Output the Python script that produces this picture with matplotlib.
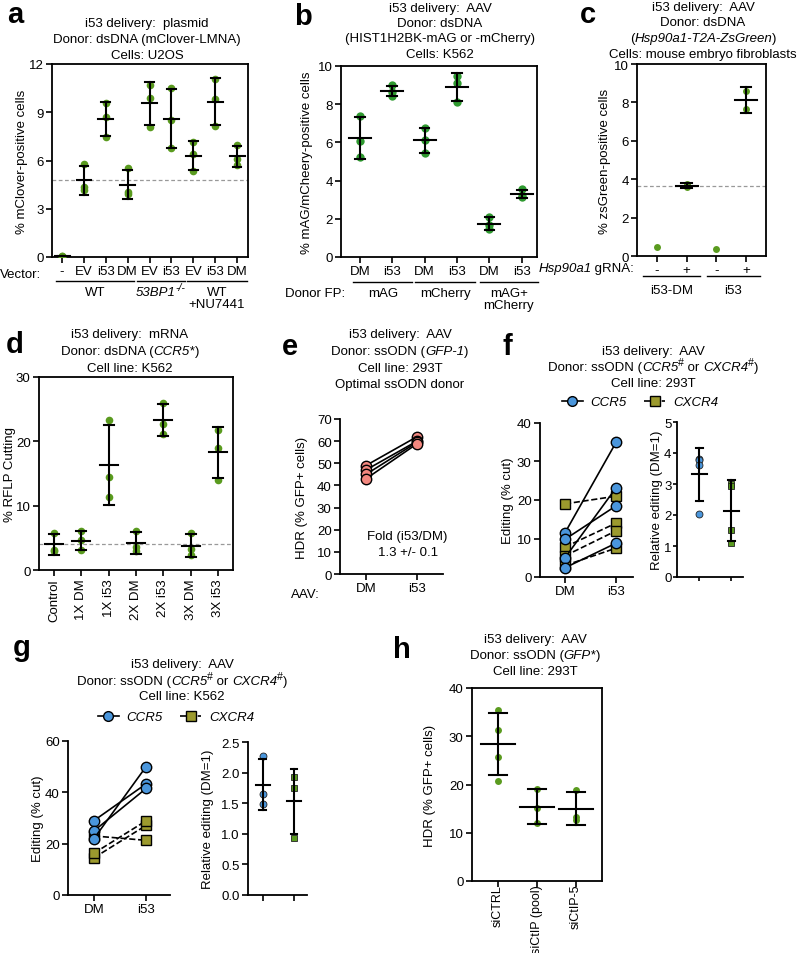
import matplotlib
matplotlib.use("Agg")
import matplotlib.pyplot as plt
import numpy as np
from matplotlib.lines import Line2D

plt.rcParams["font.family"] = ["Liberation Sans", "DejaVu Sans"]

# ---- data ----
a_ticks = ["-", "EV", "i53", "DM", "EV", "i53", "EV", "i53", "DM"]
a_vals = [[0.05, 0.03, 0.04], [5.8, 4.35, 4.15], [9.55, 8.7, 7.45], [5.55, 4.05, 3.9],
          [10.7, 9.9, 8.1], [10.5, 8.5, 6.8], [7.15, 6.4, 5.35], [11.05, 9.8, 8.15],
          [6.95, 6.1, 5.7]]
a_ref = 4.8

b_ticks = ["DM", "i53", "DM", "i53", "DM", "i53"]
b_vals = [[7.4, 6.05, 5.25], [9.0, 8.65, 8.45], [6.75, 6.15, 5.45], [9.5, 9.1, 8.1],
          [2.1, 1.7, 1.45], [3.55, 3.2, 3.15]]

c_ticks = ["-", "+", "-", "+"]
c_vals = [[0.45], [3.75, 3.58], [0.35], [8.6, 7.65]]
c_ref = 3.63

d_ticks = ["Control", "1X DM", "1X i53", "2X DM", "2X i53", "3X DM", "3X i53"]
d_vals = [[5.8, 3.1, 3.0], [6.0, 4.6, 3.1], [23.3, 14.4, 11.3], [6.1, 3.5, 3.0],
          [26.0, 22.7, 21.1], [5.8, 3.2, 2.4], [21.8, 19.0, 14.0]]
d_ref = 4.0

e_dm = [49.0, 47.0, 45.0, 43.0]
e_i53 = [62.0, 60.0, 59.5, 58.8]

f_ccr5_dm = [11.5, 5.0, 9.8, 2.4]
f_ccr5_i53 = [35.0, 23.2, 18.5, 8.8]
f_cxcr4_dm = [19.0, 7.8, 5.5, 3.0]
f_cxcr4_i53 = [21.0, 14.0, 12.0, 7.5]
f_rel = [[3.82, 3.78, 3.62, 2.03], [3.0, 2.94, 1.53, 1.1]]

g_ccr5_dm = [29.0, 25.0, 22.0]
g_ccr5_i53 = [43.3, 41.5, 50.0]
g_cxcr4_dm = [14.5, 16.3, 23.0]
g_cxcr4_i53 = [27.1, 28.9, 21.3]
g_rel = [[2.27, 1.65, 1.48], [1.92, 1.75, 0.93]]

h_ticks = ["siCTRL", "siCtIP (pool)", "siCtIP-5"]
h_vals = [[35.5, 31.3, 25.7, 20.8], [19.1, 15.2, 12.0], [18.9, 13.3, 12.7]]

GREEN = "#5a9b1f"
GREEN_B = "#2f9a30"
BLUE = "#4a96dc"
OLIVE = "#9c9a2e"
SALMON = "#f2877f"
FS = 9.5

W, H = 800, 954
fig = plt.figure(figsize=(W / 100, H / 100), dpi=100)


def add_ax(l, t, r, b):
    return fig.add_axes([l / W, 1 - b / H, (r - l) / W, (b - t) / H])


def text_width(s, **kw):
    r = fig.canvas.get_renderer()
    a = fig.text(0, 0, "|" + s + "|", **kw)
    b = fig.text(0, 0, "||", **kw)
    w = a.get_window_extent(r).width - b.get_window_extent(r).width
    a.remove()
    b.remove()
    return w


def rich(x, y, parts, size=FS, ha="center"):
    # parts: plain string or list of (text, style); style 'n', 'i', 'sup', 'isup'
    if isinstance(parts, str):
        parts = [(parts, "n")]
    pieces = []
    for s, st in parts:
        kw = dict(fontsize=size * (0.8 if "sup" in st else 1),
                  style="italic" if "i" in st else "normal")
        pieces.append((s, st, kw, text_width(s, **kw)))
    total = sum(p[3] for p in pieces)
    x0 = {"center": x - total / 2, "left": x, "right": x - total}[ha]
    base = y + 4.6 * size / FS
    for s, st, kw, w in pieces:
        dy = -5 if "sup" in st else 0
        fig.text(x0 / W, 1 - (base + dy) / H, s, ha="left", va="baseline", **kw)
        x0 += w


def title(x, ys, lines):
    for y, ln in zip(ys, lines):
        rich(x, y, ln)


def panel_label(x, y, s):
    fig.text(x / W, 1 - y / H, s, fontsize=21, fontweight="bold", ha="center", va="center")


def ylab(ax, x, s):
    bb = ax.get_position()
    fig.text(x / W, (bb.y0 + bb.y1) / 2, s, rotation=90, ha="center", va="center", fontsize=FS)


def style(ax, box=True, length=4, pad=2):
    for sp in ax.spines.values():
        sp.set_linewidth(1.3)
    if not box:
        ax.spines["top"].set_visible(False)
        ax.spines["right"].set_visible(False)
    ax.tick_params(direction="out", length=length, width=1.2, labelsize=FS, pad=pad)


def dots(ax, groups, color, ms, hw, cw, marker="o", edge=False):
    for i, vals in enumerate(groups):
        v = np.array(vals)
        ax.plot([i] * len(v), v, marker, color=color, ms=ms, zorder=3,
                mec="#222222" if edge else color, mew=0.6 if edge else 0)
        if len(v) < 2:
            continue
        m, sd = v.mean(), v.std(ddof=1)
        ax.plot([i - hw, i + hw], [m, m], color="k", lw=1.5, zorder=4)
        ax.plot([i, i], [m - sd, m + sd], color="k", lw=1.5, zorder=4)
        for yy in (m - sd, m + sd):
            ax.plot([i - cw, i + cw], [yy, yy], color="k", lw=1.5, zorder=4)


def px_x(ax, x):
    return ax.transData.transform((x, 0))[0]


def group(ax, x0, x1, y, label, ly):
    a, b = px_x(ax, x0), px_x(ax, x1)
    fig.add_artist(Line2D([a / W, b / W], [1 - y / H] * 2, transform=fig.transFigure,
                          color="k", lw=1.0))
    if isinstance(label, list) and isinstance(label[0], str):
        for k, ln in enumerate(label):
            rich((a + b) / 2, ly + 12 * k, ln)
    else:
        rich((a + b) / 2, ly, label)


def pairs(ax, dm, i53, ls, marker, color, ms):
    for p, q in zip(dm, i53):
        ax.plot([0, 1], [p, q], ls=ls, color="k", lw=1.2, marker=marker, mfc=color,
                mec="k", mew=1.0, ms=ms)


def legend(xc, y, ms):
    hs = [Line2D([], [], color="k", lw=1.2, marker="o", ms=ms, mfc=BLUE, mec="k"),
          Line2D([], [], color="k", lw=1.2, ls="--", marker="s", ms=ms, mfc=OLIVE, mec="k")]
    fig.legend(hs, ["CCR5", "CXCR4"], loc="center", bbox_to_anchor=(xc / W, 1 - y / H),
               ncol=2, frameon=False, prop={"style": "italic", "size": FS},
               handlelength=1.6, columnspacing=1.3, handletextpad=0.6)


# ---- a ----
ax = add_ax(52, 65, 248, 258)
style(ax)
dots(ax, a_vals, GREEN, 5.5, 0.34, 0.2)
ax.axhline(a_ref, color="#999999", lw=0.9, ls=(0, (3, 2)), zorder=1)
ax.set_xlim(-0.46, 8.5)
ax.set_ylim(0, 12)
ax.set_yticks([0, 3, 6, 9, 12])
ax.set_xticks(range(len(a_ticks)))
ax.set_xticklabels(a_ticks)
ylab(ax, 22, "% mClover-positive cells")
rich(20, 273, "Vector:")
group(ax, -0.28, 3.3, 282, "WT", 291)
group(ax, 3.44, 5.6, 282, [("53BP1", "i"), ("-/-", "isup")], 291)
group(ax, 5.73, 8.44, 282, ["WT", "+NU7441"], 291)
title(147, [22, 38, 54], ["i53 delivery:  plasmid", "Donor: dsDNA (mClover-LMNA)", "Cells: U2OS"])
panel_label(15, 15, "a")

# ---- b ----
ax = add_ax(341, 67, 537, 258)
style(ax)
dots(ax, b_vals, GREEN_B, 6, 0.34, 0.15)
ax.set_xlim(-0.58, 5.47)
ax.set_ylim(0, 10)
ax.set_yticks(range(0, 11, 2))
ax.set_xticks(range(len(b_ticks)))
ax.set_xticklabels(b_ticks)
ylab(ax, 307, "% mAG/mCheery-positive cells")
rich(345, 292, "Donor FP:", ha="right")
group(ax, -0.2, 1.62, 283, "mAG", 292)
group(ax, 1.71, 3.55, 283, "mCherry", 292)
group(ax, 3.7, 5.5, 283, ["mAG+", "mCherry"], 292)
title(440, [7, 22, 37, 53], ["i53 delivery:  AAV", "Donor: dsDNA",
                             "(HIST1H2BK-mAG or -mCherry)", "Cells: K562"])
panel_label(303, 17, "b")

# ---- c ----
ax = add_ax(637, 65, 766, 257)
style(ax)
dots(ax, c_vals, GREEN, 5, 0.37, 0.18)
ax.axhline(c_ref, color="#999999", lw=0.9, ls=(0, (3, 2)), zorder=1)
ax.set_xlim(-0.67, 3.67)
ax.set_ylim(0, 10)
ax.set_yticks(range(0, 11, 2))
ax.set_xticks(range(len(c_ticks)))
ax.set_xticklabels(c_ticks)
ylab(ax, 605, "% zsGreen-positive cells")
rich(634, 267, [("Hsp90a1", "i"), (" gRNA:", "n")], ha="right")
group(ax, -0.47, 1.45, 277, "i53-DM", 289)
group(ax, 1.68, 3.47, 277, "i53", 289)
title(703, [6, 21, 37, 53], ["i53 delivery:  AAV", "Donor: dsDNA",
                             [("(", "n"), ("Hsp90a1-T2A-ZsGreen", "i"), (")", "n")],
                             "Cells: mouse embryo fibroblasts"])
panel_label(588, 15, "c")

# ---- d ----
ax = add_ax(39, 378, 233, 571)
style(ax)
dots(ax, d_vals, GREEN, 5.5, 0.33, 0.18)
ax.axhline(d_ref, color="#999999", lw=0.9, ls=(0, (3, 2)), zorder=1)
ax.set_xlim(-0.55, 6.55)
ax.set_ylim(0, 30)
ax.set_yticks([0, 10, 20, 30])
ax.set_xticks(range(len(d_ticks)))
ax.set_xticklabels(d_ticks, rotation=90)
ylab(ax, 10, "% RFLP Cutting")
title(130, [333, 350, 367], ["i53 delivery:  mRNA",
                             [("Donor: dsDNA (", "n"), ("CCR5*", "i"), (")", "n")],
                             "Cell line: K562"])
panel_label(15, 345, "d")

# ---- e ----
ax = add_ax(340, 420, 443, 575)
style(ax, box=False)
pairs(ax, e_dm, e_i53, "-", "o", SALMON, 7.5)
ax.set_xlim(-0.51, 1.51)
ax.set_ylim(0, 70)
ax.set_yticks(range(0, 71, 10))
ax.set_xticks([0, 1])
ax.set_xticklabels(["DM", "i53"])
ax.text(0.8, 17, "Fold (i53/DM)", ha="center", va="center", fontsize=FS)
ax.text(0.82, 10, "1.3 +/- 0.1", ha="center", va="center", fontsize=FS)
ylab(ax, 302, "HDR (% GFP+ cells)")
rich(305, 593, "AAV:")
title(400, [333, 350, 367, 383], ["i53 delivery:  AAV",
                                  [("Donor: ssODN (", "n"), ("GFP-1", "i"), (")", "n")],
                                  "Cell line: 293T", "Optimal ssODN donor"])
panel_label(290, 347, "e")

# ---- f ----
ax = add_ax(540, 424, 633, 578)
style(ax, box=False)
pairs(ax, f_cxcr4_dm, f_cxcr4_i53, "--", "s", OLIVE, 7)
pairs(ax, f_ccr5_dm, f_ccr5_i53, "-", "o", BLUE, 7.5)
ax.set_xlim(-0.49, 1.33)
ax.set_ylim(0, 40)
ax.set_yticks(range(0, 41, 10))
ax.set_xticks([0, 1])
ax.set_xticklabels(["DM", "i53"])
ylab(ax, 508, "Editing (% cut)")

ax = add_ax(677, 423, 743, 578)
style(ax, box=False, length=3, pad=1)
dots(ax, f_rel[:1], BLUE, 5, 0.23, 0.12, edge=True)
dots(ax, [[]] + f_rel[1:], GREEN, 5, 0.23, 0.12, marker="s", edge=True)
ax.set_xlim(-0.7, 1.36)
ax.set_ylim(0, 5)
ax.set_yticks(range(0, 6))
ax.set_xticks([0, 1])
ax.set_xticklabels([])
ylab(ax, 657, "Relative editing (DM=1)")
legend(640, 403, 7)
sup_line = [("Donor: ssODN (", "n"), ("CCR5", "i"), ("#", "sup"), (" or ", "n"),
            ("CXCR4", "i"), ("#", "sup"), (")", "n")]
title(653, [350, 366, 382], ["i53 delivery:  AAV", sup_line, "Cell line: 293T"])
panel_label(507, 347, "f")

# ---- g ----
ax = add_ax(68, 742, 170, 896)
style(ax, box=False)
pairs(ax, g_cxcr4_dm, g_cxcr4_i53, "--", "s", OLIVE, 7)
pairs(ax, g_ccr5_dm, g_ccr5_i53, "-", "o", BLUE, 7.5)
ax.set_xlim(-0.5, 1.46)
ax.set_ylim(0, 60)
ax.set_yticks([0, 20, 40, 60])
ax.set_xticks([0, 1])
ax.set_xticklabels(["DM", "i53"])
ylab(ax, 38, "Editing (% cut)")

ax = add_ax(248, 743, 307, 896)
style(ax, box=False)
dots(ax, g_rel[:1], BLUE, 5, 0.23, 0.11, edge=True)
dots(ax, [[]] + g_rel[1:], GREEN, 5, 0.23, 0.11, marker="s", edge=True)
ax.set_xlim(-0.48, 1.42)
ax.set_ylim(0, 2.5)
ax.set_yticks(np.arange(0, 2.51, 0.5))
ax.set_yticklabels(["0.0", "0.5", "1.0", "1.5", "2.0", "2.5"])
ax.set_xticks([0, 1])
ax.set_xticklabels([])
ylab(ax, 208, "Relative editing (DM=1)")
legend(176, 718, 7)
title(182, [663, 680, 695], ["i53 delivery:  AAV", sup_line, "Cell line: K562"])
panel_label(22, 648, "g")

# ---- h ----
ax = add_ax(472, 689, 602, 882)
style(ax)
dots(ax, h_vals, GREEN, 5, 0.44, 0.23)
ax.set_xlim(-0.67, 2.67)
ax.set_ylim(0, 40)
ax.set_yticks(range(0, 41, 10))
ax.set_xticks(range(len(h_ticks)))
ax.set_xticklabels(h_ticks, rotation=90, fontsize=9)
ax.tick_params(axis="x", pad=-2)
ylab(ax, 430, "HDR (% GFP+ cells)")
title(535, [638, 654, 670], ["i53 delivery:  AAV",
                             [("Donor: ssODN (", "n"), ("GFP*", "i"), (")", "n")],
                             "Cell line: 293T"])
panel_label(402, 650, "h")

fig.savefig("out.png", dpi=100)
